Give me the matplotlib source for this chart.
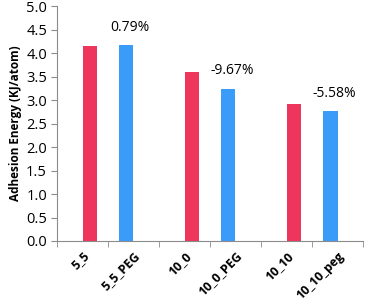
import matplotlib.pyplot as plt
import numpy as np

plt.rcParams["font.family"] = ["Open Sans", "DejaVu Sans"]

# Data
categories = ["5_5", "5_5_PEG", "10_0", "10_0_PEG", "10_10", "10_10_peg"]
red_idx = [0, 2, 4]
red_vals = [4.14, 3.59, 2.92]
blue_idx = [1, 3, 5]
blue_vals = [4.17, 3.24, 2.76]
pct_labels = ["0.79%", "-9.67%", "-5.58%"]

red = "#EE355B"
blue = "#3A9BF8"
axcol = "#8C8C8C"

fig = plt.figure(figsize=(3.66, 3.02), dpi=100)
ax = fig.add_axes([0.155, 0.202, 0.837, 0.778])

w = 0.28
ax.bar(np.array(red_idx) + 0.15, red_vals, width=w, color=red)
ax.bar(np.array(blue_idx) - 0.14, blue_vals, width=w, color=blue)

for i, v, t in zip(blue_idx, blue_vals, pct_labels):
    ax.text(i - 0.06, v + 0.22, t, ha="center", va="bottom", fontsize=10)

ax.set_xlim(-0.5, 5.5)
ax.set_ylim(0, 5)
ax.set_yticks(np.arange(0, 5.01, 0.5))
ax.set_yticklabels([f"{v:.1f}" for v in np.arange(0, 5.01, 0.5)], fontsize=10.5)
ax.set_xticks(range(len(categories)))
ax.set_xticklabels(categories, rotation=45, ha="right", rotation_mode="anchor",
                   fontsize=9, fontweight="bold")
ax.tick_params(axis="x", length=0, pad=6)
ax.set_xticks(np.arange(-0.5, 5.6, 1), minor=True)
ax.tick_params(axis="x", which="minor", length=4, color=axcol, direction="out")
ax.tick_params(axis="y", length=4, color=axcol, pad=3)

ax.set_ylabel("Adhesion Energy (KJ/atom)", fontsize=8.5, fontweight="bold", labelpad=3)

for s in ["top", "right"]:
    ax.spines[s].set_visible(False)
ax.spines["left"].set_color(axcol)
ax.spines["bottom"].set_color(axcol)

fig.savefig("out.png", dpi=100)
